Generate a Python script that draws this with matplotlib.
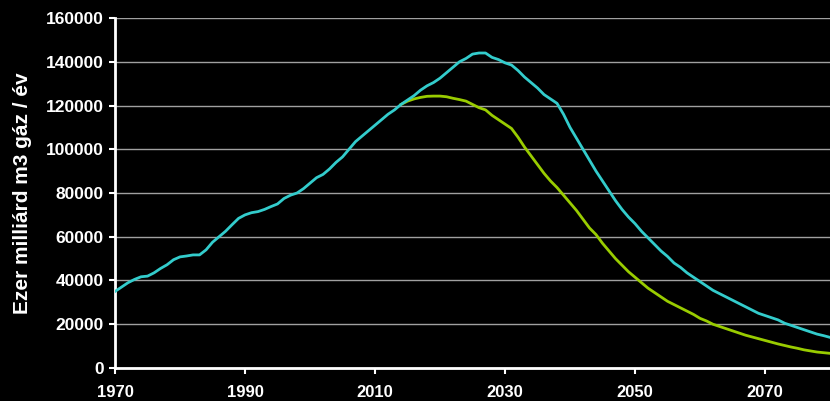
import matplotlib
matplotlib.use("Agg")
import matplotlib.pyplot as plt

# Kitermelés, ezer milliárd m3 / év (leolvasott értékek)
years_total = list(range(1970, 2081))
total = [
    35, 37, 39, 40.5, 41.7, 42, 43.5, 45.5, 47.2, 49.5,          # 1970-1979
    50.8, 51.2, 51.7, 51.7, 54, 57.5, 60, 62.5, 65.5, 68.4,      # 1980-1989
    70, 71, 71.5, 72.5, 73.8, 75, 77.5, 79, 80, 82,              # 1990-1999
    84.5, 87, 88.5, 91, 94, 96.5, 100, 103.5, 106, 108.5,        # 2000-2009
    111, 113.5, 116, 118, 120.5, 122.5, 124.5, 127, 129, 130.5,  # 2010-2019
    132.5, 135, 137.5, 140, 141.5, 143.5, 144, 144, 142, 141,    # 2020-2029
    139.5, 138.5, 136, 133, 130.5, 128, 125, 123, 121, 116,      # 2030-2039
    110, 105, 100, 95, 90, 85.5, 81, 76.5, 72.5, 69,             # 2040-2049
    66, 62.5, 59.5, 56.5, 53.5, 51, 48, 46, 43.5, 41.5,          # 2050-2059
    39.5, 37.5, 35.5, 34, 32.5, 31, 29.5, 28, 26.5, 25,          # 2060-2069
    24, 23, 22, 20.5, 19.5, 18.5, 17.5, 16.5, 15.5, 14.8,        # 2070-2079
    14,                                                          # 2080
]

years_low = list(range(2014, 2081))
low = [
    120.5, 122, 123, 123.7, 124.2, 124.3,                        # 2014-2019
    124.3, 124, 123.3, 122.7, 122, 120.5, 119, 118, 115.5, 113.5,  # 2020-2029
    111.5, 109.5, 105.5, 101, 97, 93, 89, 85.5, 82.5, 79,        # 2030-2039
    75.5, 72, 68, 64, 61, 57, 53.5, 50, 47, 44,                  # 2040-2049
    41.5, 39, 36.5, 34.5, 32.5, 30.5, 29, 27.5, 26, 24.5,        # 2050-2059
    22.7, 21.5, 20, 19, 18, 17, 16, 15, 14.2, 13.4,              # 2060-2069
    12.6, 11.8, 11, 10.3, 9.6, 9, 8.3, 7.8, 7.3, 7,              # 2070-2079
    6.7,                                                         # 2080
]

x_ticks = [1970, 1990, 2010, 2030, 2050, 2070]
y_ticks = list(range(0, 160001, 20000))

plt.rcParams['font.family'] = ['Liberation Sans', 'DejaVu Sans']

fig = plt.figure(figsize=(8.3, 4.01), dpi=100, facecolor='black')
ax = fig.add_axes([0.1386, 0.0823, 0.8614, 0.8728])
ax.set_facecolor('black')

ax.plot(years_low, [v * 1000 for v in low], color='#99CC00', lw=2.0, zorder=3)
ax.plot(years_total, [v * 1000 for v in total], color='#33CCCC', lw=2.0, zorder=4)

ax.set_xlim(1970, 2080)
ax.set_ylim(0, 160000)
ax.set_xticks(x_ticks)
ax.set_yticks(y_ticks)
ax.grid(axis='y', color='#a0a0a0', lw=1.0)
ax.set_axisbelow(True)

for side in ['top', 'right']:
    ax.spines[side].set_visible(False)
for side in ['left', 'bottom']:
    ax.spines[side].set_color('white')
    ax.spines[side].set_linewidth(2)

ax.tick_params(axis='both', colors='white', width=1.5, length=4)
ax.tick_params(axis='x', pad=8, labelsize=12)
ax.tick_params(axis='y', pad=4, labelsize=12.5)
for lbl in ax.get_xticklabels() + ax.get_yticklabels():
    lbl.set_fontweight('bold')

ax.set_ylabel('Ezer milliárd m3 gáz / év', color='white', fontsize=15,
              fontweight='bold')
ax.yaxis.set_label_coords(-0.1165, 0.5)

fig.savefig('out.png', dpi=100, facecolor='black')
